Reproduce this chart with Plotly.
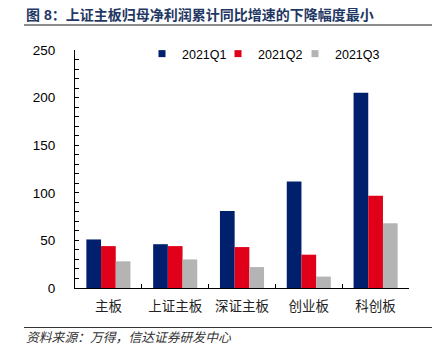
import plotly.graph_objects as go

categories = ["主板", "上证主板", "深证主板", "创业板", "科创板"]
q1 = [51, 46, 81, 112, 205]
q2 = [44, 44, 43, 35, 97]
q3 = [28, 30, 22, 12, 68]
series_names = ["2021Q1", "2021Q2", "2021Q3"]
colors = ["#00206E", "#E0001A", "#B4B4B4"]

OFF = 8  # default page body margin
W, H = 440 - OFF, 359 - OFF
L, R, T, B = 75 - OFF, 31, 50 - OFF, 71
pw, ph = W - L - R, H - T - B

def px_x(x):
    return (x - OFF - L) / pw

def px_y(y):
    return (H - B - (y - OFF)) / ph

legend_ids = ["legend", "legend2", "legend3"]
legend_px = [142, 218, 295]

fig = go.Figure()
for name, vals, c, lid in zip(series_names, [q1, q2, q3], colors, legend_ids):
    fig.add_trace(go.Bar(x=categories, y=vals, name=name, marker=dict(color=c, line=dict(width=0)),
                         showlegend=False))
    fig.add_trace(go.Scatter(x=[None], y=[None], mode="markers", name=name, legend=lid,
                             marker=dict(symbol="square", size=7, color=c)))

legend_style = dict(orientation="h", xanchor="left", yanchor="middle",
                    bgcolor="rgba(0,0,0,0)", font=dict(size=12.5, family="Liberation Sans"),
                    itemwidth=30)
legends = {lid: dict(legend_style, x=px_x(xp), y=px_y(54)) for lid, xp in zip(legend_ids, legend_px)}

fig.update_layout(
    width=W, height=H,
    margin=dict(l=L, r=R, t=T, b=B, autoexpand=False),
    paper_bgcolor="white", plot_bgcolor="white",
    barmode="group", bargap=0.34, bargroupgap=0,
    font=dict(family="Liberation Sans, Noto Sans CJK SC", size=13, color="#000"),
    xaxis=dict(showline=True, linecolor="#000", linewidth=1, ticks="inside", ticklen=4,
               tickcolor="#000", tickson="boundaries", showgrid=False,
               tickfont=dict(family="Noto Sans CJK SC", size=13.5, color="#222"),
               ticklabelstandoff=6),
    yaxis=dict(range=[0, 250], dtick=50, showline=True, linecolor="#000", linewidth=1,
               ticks="inside", ticklen=4, tickcolor="#000", showgrid=False, zeroline=False,
               tickfont=dict(family="Liberation Sans", size=13.5, color="#000"),
               ticklabelstandoff=16,
               minor=dict(dtick=10, ticks="inside", ticklen=4, tickcolor="#000", showgrid=False)),
    **legends,
)

fig.add_annotation(text="<b>图 8：上证主板归母净利润累计同比增速的下降幅度最小</b>",
                   xref="paper", yref="paper", x=px_x(24), y=px_y(15),
                   xanchor="left", yanchor="middle", showarrow=False,
                   font=dict(family="Liberation Sans, Noto Sans CJK SC", size=14, color="#1F3864"))
fig.add_annotation(text="<i>资料来源：万得，信达证券研发中心</i>",
                   xref="paper", yref="paper", x=px_x(24), y=px_y(336),
                   xanchor="left", yanchor="middle", showarrow=False,
                   font=dict(family="Noto Sans CJK SC", size=12.8, color="#333"))
fig.add_shape(type="line", xref="paper", yref="paper", x0=px_x(24), x1=px_x(433),
              y0=px_y(25), y1=px_y(25), line=dict(color="#666", width=1.5))
fig.add_shape(type="line", xref="paper", yref="paper", x0=px_x(24), x1=px_x(433),
              y0=px_y(327.5), y1=px_y(327.5), line=dict(color="#333", width=1))

fig.write_html("out.html")
